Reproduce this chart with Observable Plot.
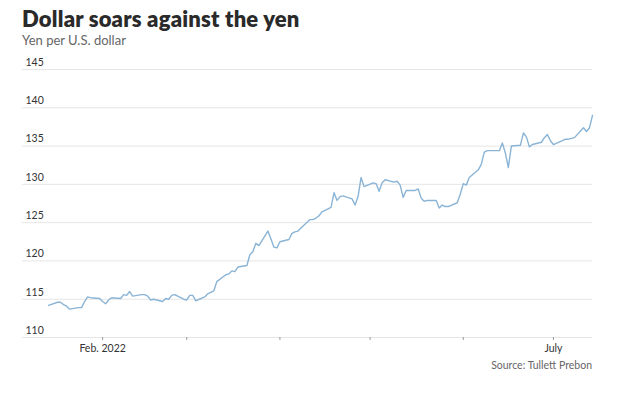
<!DOCTYPE html>
<html>
<head>
<meta charset="utf-8">
<script src="https://cdn.jsdelivr.net/npm/d3@7"></script>
<script src="https://cdn.jsdelivr.net/npm/@observablehq/plot@0.6"></script>
<style>
  body { margin: 0; background: #fff; width: 640px; height: 396px; position: relative; overflow: hidden; font-family: Lato, "Open Sans", sans-serif; }
  #title { position: absolute; left: 22px; top: 5px; font-size: 22px; font-weight: 800; color: #2a2a2a; letter-spacing: 0.2px; white-space: nowrap; }
  #subtitle { position: absolute; left: 22px; top: 32px; font-size: 13px; color: #666; white-space: nowrap; }
  #chart { position: absolute; left: 0; top: 50px; }
  #source { position: absolute; right: 48px; top: 359px; font-size: 10.5px; color: #666; white-space: nowrap; }
</style>
</head>
<body>
<div id="title">Dollar soars against the yen</div>
<div id="subtitle">Yen per U.S. dollar</div>
<div id="chart"></div>
<div id="source">Source: Tullett Prebon</div>
<script>
const dates = [
  "2022-01-14","2022-01-17","2022-01-18","2022-01-19","2022-01-20","2022-01-21","2022-01-24","2022-01-25","2022-01-26","2022-01-27","2022-01-28","2022-01-31",
  "2022-02-01","2022-02-02","2022-02-03","2022-02-04","2022-02-07","2022-02-08","2022-02-09","2022-02-10","2022-02-11","2022-02-14","2022-02-15","2022-02-16","2022-02-17","2022-02-18","2022-02-21","2022-02-22","2022-02-23","2022-02-24","2022-02-25","2022-02-28",
  "2022-03-01","2022-03-02","2022-03-03","2022-03-04","2022-03-07","2022-03-08","2022-03-09","2022-03-10","2022-03-11","2022-03-14","2022-03-15","2022-03-16","2022-03-17","2022-03-18","2022-03-21","2022-03-22","2022-03-23","2022-03-24","2022-03-25","2022-03-28","2022-03-29","2022-03-30","2022-03-31",
  "2022-04-01","2022-04-04","2022-04-05","2022-04-06","2022-04-07","2022-04-08","2022-04-11","2022-04-12","2022-04-13","2022-04-14","2022-04-15","2022-04-18","2022-04-19","2022-04-20","2022-04-21","2022-04-22","2022-04-25","2022-04-26","2022-04-27","2022-04-28","2022-04-29",
  "2022-05-02","2022-05-03","2022-05-04","2022-05-05","2022-05-06","2022-05-09","2022-05-10","2022-05-11","2022-05-12","2022-05-13","2022-05-16","2022-05-17","2022-05-18","2022-05-19","2022-05-20","2022-05-23","2022-05-24","2022-05-25","2022-05-26","2022-05-27","2022-05-30","2022-05-31",
  "2022-06-01","2022-06-02","2022-06-03","2022-06-06","2022-06-07","2022-06-08","2022-06-09","2022-06-10","2022-06-13","2022-06-14","2022-06-15","2022-06-16","2022-06-17","2022-06-20","2022-06-21","2022-06-22","2022-06-23","2022-06-24","2022-06-27","2022-06-28","2022-06-29","2022-06-30",
  "2022-07-01","2022-07-04","2022-07-05","2022-07-06","2022-07-07","2022-07-08","2022-07-11","2022-07-12","2022-07-13","2022-07-14"
];
const yen = [
  114.2,114.6,114.6,114.3,114.1,113.7,113.9,113.9,114.7,115.3,115.2,115.1,
  114.7,114.4,114.9,115.2,115.1,115.6,115.5,116.0,115.4,115.6,115.6,115.4,114.9,115.0,114.7,115.1,115.0,115.5,115.6,115.0,
  114.9,115.5,115.5,114.8,115.3,115.7,115.9,116.1,117.3,118.2,118.3,118.7,118.6,119.2,119.4,120.8,121.2,122.3,122.0,123.9,122.9,121.8,121.7,
  122.5,122.8,123.6,123.8,123.9,124.3,125.4,125.4,125.6,125.9,126.4,127.0,128.9,127.9,128.4,128.5,128.1,127.3,128.4,130.9,129.7,
  130.2,130.1,129.1,130.2,130.6,130.3,130.4,129.9,128.3,129.2,129.2,129.4,128.2,127.8,127.9,127.9,126.9,127.3,127.1,127.1,127.6,128.7,
  130.1,129.9,130.9,131.9,132.6,134.2,134.4,134.4,134.4,135.4,134.1,132.2,135.0,135.1,136.7,136.2,134.9,135.2,135.5,136.1,136.5,135.7,
  135.2,135.7,135.9,135.9,136.0,136.1,137.4,136.9,137.4,139.0
];
const yTicks = [110, 115, 120, 125, 130, 135, 140, 145];
const xTickDates = ["2022-02-01","2022-03-01","2022-04-01","2022-05-01","2022-06-01","2022-07-01"];
const xTickLabels = ["Feb. 2022","","","","","July"];

const parse = d3.utcParse("%Y-%m-%d");
const data = dates.map((d, i) => ({date: parse(d), value: yen[i]}));
const xTicks = xTickDates.map(parse);
const labelFor = new Map(xTicks.map((t, i) => [+t, xTickLabels[i]]));

const W = 640, H = 305;
const chart = Plot.plot({
  width: W,
  height: H,
  marginLeft: 22,
  marginRight: 48,
  marginTop: 19,
  marginBottom: 18,
  style: {fontFamily: "Lato, sans-serif", fontSize: "10.5px", color: "#333", background: "#fff"},
  x: {type: "utc", domain: [data[0].date, data[data.length - 1].date], range: [48, 592]},
  y: {domain: [110, 145]},
  marks: [
    Plot.gridY(yTicks, {stroke: "#e6e6e6", strokeOpacity: 1, strokeWidth: 1}),
    Plot.axisY(yTicks, {anchor: "left", tickSize: 0, tickPadding: 0, textAnchor: "start", dx: 3, dy: -7, label: null, fill: "#333"}),
    Plot.axisX(xTicks, {anchor: "bottom", tickSize: 3, tickPadding: 4, stroke: "#999", fill: "#333", tickFormat: d => labelFor.get(+d) ?? "", label: null}),
    Plot.line(data, {x: "date", y: "value", stroke: "#8ab4d6", strokeWidth: 1.4, curve: "linear"})
  ]
});
document.getElementById("chart").appendChild(chart);
</script>
</body>
</html>
